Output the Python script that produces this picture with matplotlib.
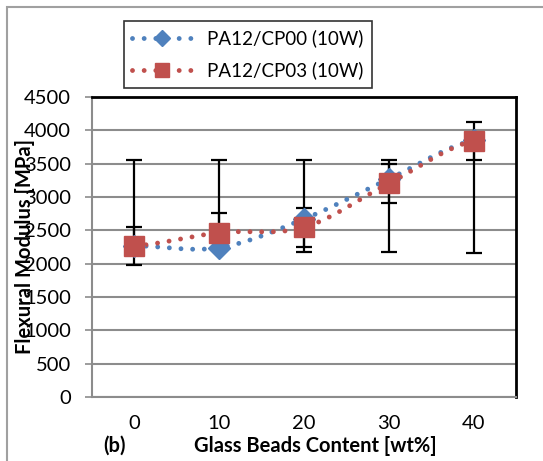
import numpy as np
import matplotlib
matplotlib.use("Agg")
import matplotlib.pyplot as plt
from matplotlib.lines import Line2D
from matplotlib.patches import Rectangle

plt.rcParams['font.family'] = ['Lato', 'DejaVu Sans']

categories = ["0", "10", "20", "30", "40"]
series_names = ["PA12/CP00 (10W)", "PA12/CP03 (10W)"]
cp00 = [2270, 2240, 2670, 3270, 3850]
cp03 = [2265, 2465, 2545, 3205, 3845]
# error bar ends (low, high)
cp00_low = [1975, 2240, 2250, 2915, 3555]
cp00_high = [2550, 2755, 2830, 3490, 4130]
cp03_low = [2265, 2465, 2175, 2175, 2165]
cp03_high = [3555, 3555, 3555, 3555, 3845]

blue = "#4F81BD"
red = "#C0504D"


def smooth(xs, ys, n=40):
    xs = np.asarray(xs, float)
    ys = np.asarray(ys, float)
    px = np.concatenate([[2 * xs[0] - xs[1]], xs, [2 * xs[-1] - xs[-2]]])
    py = np.concatenate([[ys[0]], ys, [ys[-1]]])
    outx, outy = [], []
    for i in range(1, len(px) - 2):
        p0, p1, p2, p3 = (np.array([px[j], py[j]]) for j in range(i - 1, i + 3))
        c1 = p1 + (p2 - p0) / 6.0
        c2 = p2 - (p3 - p1) / 6.0
        t = np.linspace(0, 1, n)[:, None]
        b = ((1 - t) ** 3) * p1 + 3 * ((1 - t) ** 2) * t * c1 + 3 * (1 - t) * t ** 2 * c2 + t ** 3 * p2
        if i > 1:
            b = b[1:]
        outx.extend(b[:, 0])
        outy.extend(b[:, 1])
    return np.array(outx), np.array(outy)


W, H = 543, 461
fig = plt.figure(figsize=(W / 100, H / 100), dpi=100)
ax = fig.add_axes([92 / W, (H - 397) / H, 424 / W, 300 / H])

x = np.arange(len(categories))
dot_style = dict(linestyle=(0, (0.001, 2.4)), linewidth=3.5, dash_capstyle='round', solid_capstyle='round')

for vals, lo, hi in [(cp00, cp00_low, cp00_high), (cp03, cp03_low, cp03_high)]:
    v = np.array(vals)
    yerr = [v - np.array(lo), np.array(hi) - v]
    ax.errorbar(x, v, yerr=yerr, fmt='none', ecolor='black', elinewidth=1.6,
                capsize=6, capthick=1.6, zorder=3)

sx, sy = smooth(x, cp00)
ax.plot(sx, sy, color=blue, zorder=4, **dot_style)
sx, sy = smooth(x, cp03)
ax.plot(sx, sy, color=red, zorder=4, **dot_style)
ax.plot(x, cp00, linestyle='none', marker='D', markersize=11.5, color=blue,
        markeredgecolor=blue, zorder=5)
ax.plot(x, cp03, linestyle='none', marker='s', markersize=14.5, color=red,
        markeredgecolor=red, zorder=6)

ax.set_xlim(-0.5, 4.5)
ax.set_ylim(0, 4500)
ax.set_yticks(np.arange(0, 4501, 500))
ax.set_xticks(x)
ax.set_xticklabels(categories)
ax.grid(axis='y', color='#8c8c8c', linewidth=1.5)
ax.set_axisbelow(True)
for s in ['top', 'right']:
    ax.spines[s].set_color('black')
    ax.spines[s].set_linewidth(2.0)
for s in ['left', 'bottom']:
    ax.spines[s].set_color('#8c8c8c')
    ax.spines[s].set_linewidth(1.5)
ax.tick_params(axis='y', length=5, width=1.2, color='#8c8c8c', labelsize=14.5, pad=10)
ax.tick_params(axis='x', length=0, labelsize=14.5, pad=13)

fig.text(25 / W, 1 - 246 / H, "Flexural Modulus [MPa]", rotation=90, ha='center', va='center',
         fontsize=14.5, fontweight='bold')
fig.text(315 / W, 1 - 446 / H, "Glass Beads Content [wt%]", ha='center', va='center',
         fontsize=14.5, fontweight='bold')
fig.text(115 / W, 1 - 446 / H, "(b)", ha='center', va='center', fontsize=14.5, fontweight='bold')

handles = [
    Line2D([], [], color=blue, marker='D', markersize=8.5, **dot_style),
    Line2D([], [], color=red, marker='s', markersize=10, **dot_style),
]
leg = fig.legend(handles, series_names, loc='upper left', bbox_to_anchor=(124 / W, 1 - 21 / H),
                 frameon=True, fancybox=False, fontsize=13.5, handlelength=3.2, handletextpad=0.8,
                 borderpad=0.45, labelspacing=0.75, borderaxespad=0)
leg.get_frame().set_edgecolor('black')
leg.get_frame().set_linewidth(1.2)

fig.add_artist(Rectangle((7 / W, -0.1), 1.2, 1 - 7 / H + 0.1, transform=fig.transFigure,
                         fill=False, edgecolor='#a0a0a0', linewidth=1.5))

fig.savefig("out.png", dpi=100)
